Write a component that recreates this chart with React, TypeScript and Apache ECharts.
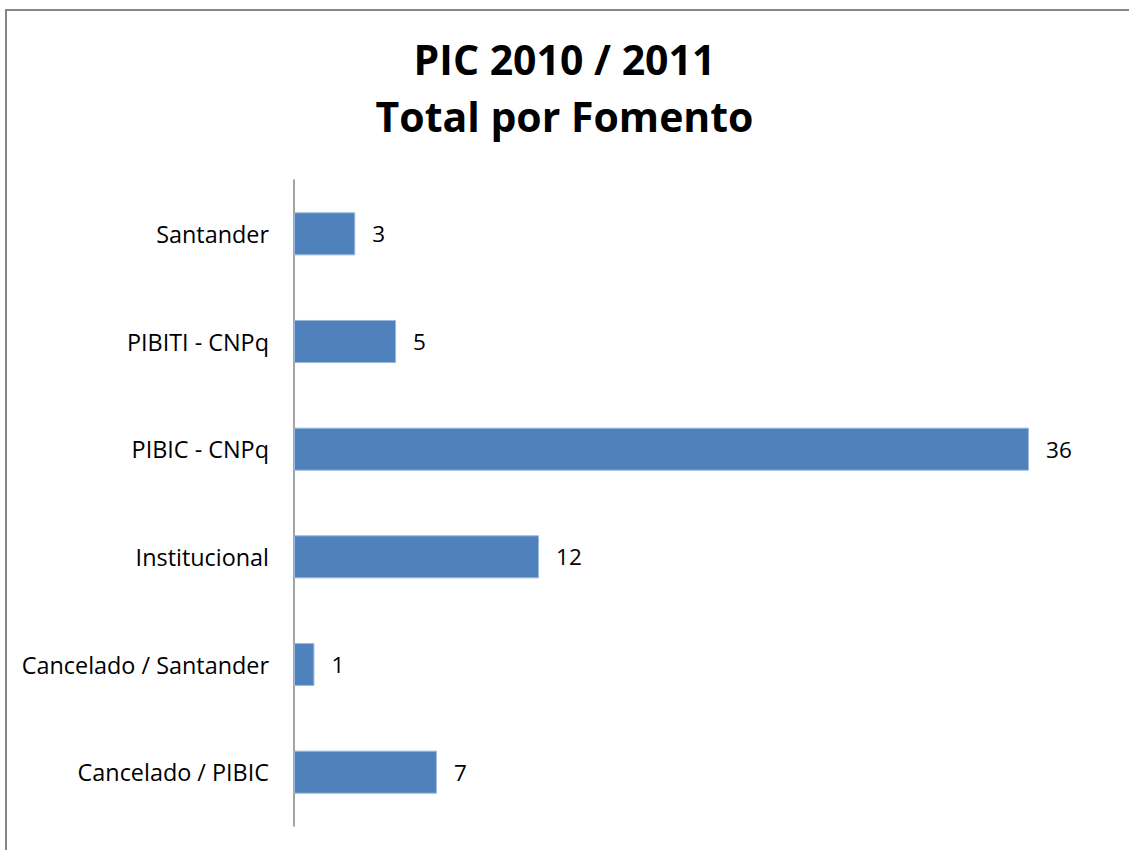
import React, { useEffect, useRef } from "react";
import * as echarts from "echarts";

const titleLines = ["PIC 2010 / 2011", "Total por Fomento"];
const categories = [
  "Cancelado / PIBIC",
  "Cancelado / Santander",
  "Institucional",
  "PIBIC - CNPq",
  "PIBITI - CNPq",
  "Santander",
];
const values = [7, 1, 12, 36, 5, 3];

export default function App() {
  const ref = useRef<HTMLDivElement>(null);
  useEffect(() => {
    if (!ref.current) return;
    const chart = echarts.init(ref.current, null, { renderer: "svg" });
    const font = "'Open Sans', 'Noto Sans', sans-serif";
    chart.setOption({
      animation: false,
      backgroundColor: "#ffffff",
      title: {
        text: titleLines.join("\n"),
        left: "center",
        top: 25,
        textStyle: {
          fontFamily: font,
          fontWeight: "bold",
          fontSize: 41,
          lineHeight: 57,
          color: "#000",
        },
      },
      graphic: [
        {
          type: "rect",
          shape: { x: 6, y: 10, width: 1300, height: 1000 },
          style: { fill: "none", stroke: "#868686", lineWidth: 2 },
          silent: true,
        },
      ],
      grid: { left: 294, top: 180, width: 816.7, height: 646, containLabel: false },
      xAxis: {
        type: "value",
        min: 0,
        max: 40,
        show: false,
      },
      yAxis: {
        type: "category",
        data: categories,
        axisLine: { show: true, lineStyle: { color: "#868686", width: 1.5 } },
        axisTick: { show: false },
        axisLabel: { fontFamily: font, fontSize: 23.4, color: "#000", margin: 25 },
        splitLine: { show: false },
      },
      series: [
        {
          type: "bar",
          data: values,
          barCategoryGap: "60%",
          itemStyle: { color: "#4F81BD", borderColor: "#9db9dc", borderWidth: 1 },
          label: {
            show: true,
            position: "right",
            distance: 17,
            fontFamily: font,
            fontSize: 22.5,
            color: "#000",
          },
        },
      ],
    });
    return () => chart.dispose();
  }, []);
  return (
    <div
      ref={ref}
      style={{ position: "fixed", left: 0, top: 0, width: 1129, height: 850 }}
    />
  );
}
